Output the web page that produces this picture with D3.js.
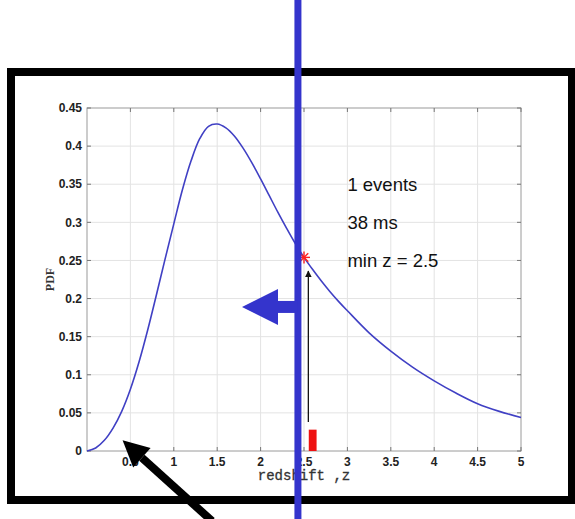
<!DOCTYPE html>
<html>
<head>
<meta charset="utf-8">
<script src="https://cdn.jsdelivr.net/npm/d3@7"></script>
<style>
    body { margin: 0; background: #fff; }
    svg { display: block; }
</style>
</head>
<body>
<div id="chart"></div>
<script>
// redshift PDF for a single event

// curve
const zVals   = [0, 0.1, 0.2, 0.3, 0.4, 0.5, 0.6, 0.7, 0.8, 0.9, 1.0, 1.1, 1.2, 1.3, 1.4, 1.5,
                 1.6, 1.7, 1.8, 1.9, 2.0, 2.1, 2.2, 2.3, 2.4, 2.5, 2.6, 2.7, 2.8, 2.9, 3.0,
                 3.25, 3.5, 3.75, 4.0, 4.25, 4.5, 4.75, 5.0];
const pdfVals = [0, 0.004, 0.014, 0.03, 0.052, 0.081, 0.117, 0.159, 0.205, 0.252, 0.298, 0.343, 0.381, 0.410, 0.426, 0.429,
                 0.424, 0.413, 0.397, 0.378, 0.357, 0.335, 0.313, 0.292, 0.272, 0.254, 0.238, 0.223, 0.209, 0.196, 0.184,
                 0.155, 0.131, 0.110, 0.092, 0.076, 0.062, 0.052, 0.044];

const xTicks = [0.5, 1, 1.5, 2, 2.5, 3, 3.5, 4, 4.5, 5];
const yTicks = [0, 0.05, 0.1, 0.15, 0.2, 0.25, 0.3, 0.35, 0.4, 0.45];

// the one event (histogram bar) and the marked point
const eventZ = [2.6];
const eventHeight = [0.028];
const minZ = 2.5;
const minPdf = 0.254;

const infoLines = ["1 events", "38 ms", "min z = 2.5"];
const infoY = [0.35, 0.3, 0.25];

const W = 575, H = 519;
const plot = {left: 87, right: 521, top: 108, bottom: 451};

const svg = d3.select("#chart").append("svg")
    .attr("width", W)
    .attr("height", H);

const x = d3.scaleLinear().domain([0, 5]).range([plot.left, plot.right]);
const y = d3.scaleLinear().domain([0, 0.45]).range([plot.bottom, plot.top]);

// grid
const grid = svg.append("g").attr("stroke", "#e3e3e3").attr("stroke-width", 1);
grid.selectAll(".gx").data(xTicks.filter(d => d < 5)).enter().append("line")
    .attr("x1", d => x(d)).attr("x2", d => x(d))
    .attr("y1", plot.top).attr("y2", plot.bottom);
grid.selectAll(".gy").data(yTicks.filter(d => d > 0 && d < 0.45)).enter().append("line")
    .attr("x1", plot.left).attr("x2", plot.right)
    .attr("y1", d => y(d)).attr("y2", d => y(d));

// axis box
svg.append("rect")
    .attr("x", plot.left).attr("y", plot.top)
    .attr("width", plot.right - plot.left).attr("height", plot.bottom - plot.top)
    .attr("fill", "none").attr("stroke", "#9a9a9a").attr("stroke-width", 1);

// inward ticks on all four sides (matlab style)
const ticks = svg.append("g").attr("stroke", "#777").attr("stroke-width", 1);
xTicks.forEach(function(d) {
    ticks.append("line").attr("x1", x(d)).attr("x2", x(d)).attr("y1", plot.bottom).attr("y2", plot.bottom - 4);
    ticks.append("line").attr("x1", x(d)).attr("x2", x(d)).attr("y1", plot.top).attr("y2", plot.top + 4);
});
yTicks.forEach(function(d) {
    ticks.append("line").attr("x1", plot.left).attr("x2", plot.left + 4).attr("y1", y(d)).attr("y2", y(d));
    ticks.append("line").attr("x1", plot.right).attr("x2", plot.right - 4).attr("y1", y(d)).attr("y2", y(d));
});

// tick labels
const fmt = d3.format("~g");
svg.append("g").selectAll("text").data(xTicks).enter().append("text")
    .attr("x", d => x(d)).attr("y", plot.bottom + 15)
    .attr("text-anchor", "middle")
    .attr("font-family", "Liberation Sans, Arial, sans-serif")
    .attr("font-weight", "bold").attr("font-size", 12).attr("fill", "#222")
    .text(fmt);
svg.append("g").selectAll("text").data(yTicks).enter().append("text")
    .attr("x", plot.left - 5).attr("y", d => y(d))
    .attr("dy", "0.35em")
    .attr("text-anchor", "end")
    .attr("font-family", "Liberation Sans, Arial, sans-serif")
    .attr("font-weight", "bold").attr("font-size", 12).attr("fill", "#222")
    .text(fmt);

// axis titles
svg.append("text")
    .attr("x", (plot.left + plot.right) / 2).attr("y", plot.bottom + 29)
    .attr("text-anchor", "middle")
    .attr("font-family", "Liberation Mono, Courier New, monospace")
    .attr("font-size", 14).attr("fill", "#333")
    .attr("stroke", "#333").attr("stroke-width", 0.3)
    .text("redshift ,z");
svg.append("text")
    .attr("transform", "translate(" + 54 + "," + (plot.top + plot.bottom) / 2 + ") rotate(-90)")
    .attr("text-anchor", "middle")
    .attr("font-family", "Liberation Serif, Times New Roman, serif")
    .attr("font-weight", "bold").attr("font-size", 12).attr("fill", "#333")
    .text("PDF");

// event bar
svg.append("g").selectAll("rect").data(eventZ).enter().append("rect")
    .attr("x", d => x(d - 0.045))
    .attr("width", d => x(d + 0.045) - x(d - 0.045))
    .attr("y", (d, i) => y(eventHeight[i]))
    .attr("height", (d, i) => y(0) - y(eventHeight[i]))
    .attr("fill", "#ee1111");

// PDF curve
const line = d3.line()
    .x((d, i) => x(zVals[i]))
    .y(d => y(d))
    .curve(d3.curveCatmullRom.alpha(0.5));
svg.append("path")
    .datum(pdfVals)
    .attr("d", line)
    .attr("fill", "none")
    .attr("stroke", "#4040c4")
    .attr("stroke-width", 1.6);

// info text
svg.append("g").selectAll("text").data(infoLines).enter().append("text")
    .attr("x", x(3)).attr("y", (d, i) => y(infoY[i]))
    .attr("dy", "0.35em")
    .attr("font-family", "Liberation Sans, Arial, sans-serif")
    .attr("font-size", 18.5).attr("fill", "#111")
    .text(d => d);

// thin arrow from bar up to curve
const defs = svg.append("defs");
defs.append("marker")
    .attr("id", "thinhead")
    .attr("viewBox", "0 0 10 10").attr("refX", 9).attr("refY", 5)
    .attr("markerWidth", 7).attr("markerHeight", 7)
    .attr("markerUnits", "userSpaceOnUse")
    .attr("orient", "auto")
    .append("path").attr("d", "M0,0 L10,5 L0,10 z").attr("fill", "#111");
svg.append("line")
    .attr("x1", x(2.55)).attr("x2", x(2.55))
    .attr("y1", y(0.038)).attr("y2", y(0.236))
    .attr("stroke", "#111").attr("stroke-width", 1.3)
    .attr("marker-end", "url(#thinhead)");

// min z marker (star)
const star = svg.append("g")
    .attr("transform", "translate(" + x(minZ) + "," + y(minPdf) + ")")
    .attr("stroke", "#ff2020").attr("stroke-width", 1.4);
[0, 45, 90, 135].forEach(function(a) {
    star.append("line").attr("x1", -6).attr("x2", 6).attr("y1", 0).attr("y2", 0)
        .attr("transform", "rotate(" + a + ")");
});

// black frame
svg.append("rect")
    .attr("x", 11).attr("y", 72)
    .attr("width", 561).attr("height", 428)
    .attr("fill", "none").attr("stroke", "#000").attr("stroke-width", 8);

// big black arrow from bottom
const bx0 = 212, by0 = H + 2, bx1 = x(0.41), by1 = y(0.014);
const ang = Math.atan2(by1 - by0, bx1 - bx0);
const headLen = 26, headHalf = 13;
const baseX = bx1 - headLen * Math.cos(ang), baseY = by1 - headLen * Math.sin(ang);
svg.append("line")
    .attr("x1", bx0).attr("y1", by0).attr("x2", baseX).attr("y2", baseY)
    .attr("stroke", "#000").attr("stroke-width", 8);
svg.append("path")
    .attr("d", d3.line()([
        [bx1, by1],
        [baseX + headHalf * Math.sin(ang), baseY - headHalf * Math.cos(ang)],
        [baseX - headHalf * Math.sin(ang), baseY + headHalf * Math.cos(ang)]
    ]) + "Z")
    .attr("fill", "#000");

// blue cut line and left pointing arrow
const cutX = x(2.43);
const blue = "#3434cc";
svg.append("rect")
    .attr("x", cutX - 3.5).attr("y", 0)
    .attr("width", 7).attr("height", H)
    .attr("fill", blue);
const ay = y(0.189);
svg.append("rect")
    .attr("x", 276).attr("y", ay - 6)
    .attr("width", cutX - 276).attr("height", 12)
    .attr("fill", blue);
svg.append("path")
    .attr("d", d3.line()([[242, ay], [278, ay - 18], [278, ay + 18]]) + "Z")
    .attr("fill", blue);
</script>
</body>
</html>
